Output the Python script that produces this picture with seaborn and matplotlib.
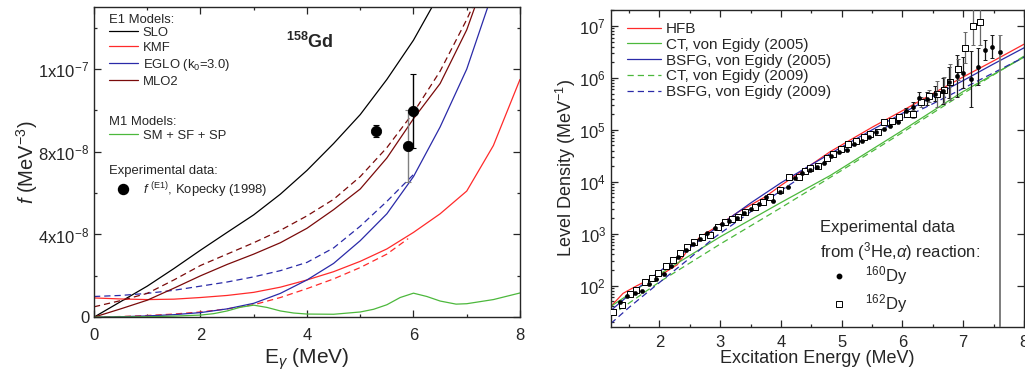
import numpy as np
import pandas as pd
import matplotlib
matplotlib.use("Agg")
import matplotlib.pyplot as plt
from matplotlib.ticker import (FixedLocator, MultipleLocator, LogLocator, NullFormatter,
                               LogFormatterSciNotation)
import seaborn as sns

# ---------------- left panel: 158Gd strength functions (1e-8 MeV^-3) ----------------
e_half = [0, 0.5, 1, 1.5, 2, 2.5, 3, 3.5, 4, 4.5, 5, 5.5, 6, 6.5, 7, 7.5, 8]

slo_e = e_half[:14]
slo_f = [0, 0.75, 1.5, 2.35, 3.24, 4.1, 4.95, 5.95, 7.1, 8.4, 9.8, 11.5, 13.4, 15.7]

mlo2_e = e_half[:16]
mlo2_f = [0, 0.4, 0.82, 1.4, 2.0, 2.55, 3.05, 3.6, 4.3, 5.2, 6.2, 7.7, 9.6, 11.3, 13.9, 17.5]
mlo2_dash_f = [0.5, 0.8, 1.15, 1.8, 2.5, 3.05, 3.6, 4.2, 4.9, 5.7, 6.8, 8.2, 9.9, 11.9, 14.4, 17.2]

eglo_e = e_half[:16]
eglo_f = [0, 0.02, 0.06, 0.12, 0.22, 0.4, 0.67, 1.15, 1.8, 2.6, 3.7, 5.0, 6.8, 9.2, 12.0, 15.8]
eglo_dash_e = e_half[:13]
eglo_dash_f = [1.0, 1.05, 1.15, 1.3, 1.5, 1.7, 1.95, 2.25, 2.65, 3.35, 4.4, 5.6, 6.9]

kmf_e = e_half
kmf_f = [0.93, 0.88, 0.85, 0.87, 0.95, 1.05, 1.2, 1.45, 1.8, 2.2, 2.7, 3.3, 4.1, 5.0, 6.1, 8.3, 11.5]
kmf_dash_e = [0, 0.5, 1, 1.5, 2, 2.5, 3, 3.5, 4, 4.5, 5, 5.5, 5.9]
kmf_dash_f = [0, 0.03, 0.08, 0.15, 0.25, 0.4, 0.6, 0.95, 1.38, 1.85, 2.4, 3.05, 3.8]

m1_e = [0, 0.5, 1, 1.5, 2, 2.25, 2.5, 2.75, 3, 3.25, 3.5, 3.75, 4, 4.5, 5, 5.25,
        5.5, 5.75, 6, 6.25, 6.5, 6.8, 7, 7.5, 8]
m1_f = [0, 0.01, 0.02, 0.05, 0.1, 0.17, 0.3, 0.48, 0.58, 0.47, 0.3, 0.2, 0.15, 0.14,
        0.25, 0.38, 0.6, 0.95, 1.16, 1.0, 0.78, 0.63, 0.65, 0.85, 1.17]

kop_e = [5.3, 5.9, 6.0]
kop_f = [9.0, 8.27, 9.97]
kop_err = [0.3, 1.75, 1.8]

gd_yticks = [0, 4, 8, 12]
gd_yticklabels = ["0", r"4x10$^{-8}$", r"8x10$^{-8}$", r"1x10$^{-7}$"]

# ---------------- right panel: Dy level densities (log10 of MeV^-1) ----------------
hfb_e = [1.2, 1.4, 1.6, 1.8, 1.93, 2.1, 2.29, 2.47, 2.67, 2.92, 3.3, 3.74, 4.0, 4.4,
         4.81, 5.5, 6.0, 6.5, 7.0, 7.5, 8.0]
hfb_l = [1.6, 1.85, 1.98, 2.1, 2.17, 2.26, 2.40, 2.69, 2.94, 3.12, 3.42, 3.71, 3.93,
         4.25, 4.58, 5.05, 5.37, 5.7, 6.02, 6.33, 6.65]

bsfg05_e = [1.2, 1.5, 2, 2.5, 3, 3.5, 4, 4.5, 5, 5.5, 6, 6.5, 7, 7.5, 8]
bsfg05_l = [1.52, 1.82, 2.27, 2.73, 3.17, 3.59, 3.98, 4.33, 4.67, 5.0, 5.32, 5.64, 5.95, 6.27, 6.58]

bsfg09_e = [1.2, 1.5, 2, 2.5, 2.92, 3.5, 4, 4.5, 4.81, 5.5, 6, 6.46, 7, 7.5, 8]
bsfg09_l = [1.27, 1.58, 2.06, 2.53, 2.94, 3.42, 3.83, 4.22, 4.46, 4.91, 5.22, 5.48, 5.8, 6.1, 6.4]

ct05_e = [1.2, 2.0, 3.0, 4.0, 4.81, 6.0, 7.0, 8.0]
ct05_l = [1.6, 2.22, 2.94, 3.6, 4.12, 4.99, 5.74, 6.40]

ct09_e = [1.2, 2.0, 3.0, 4.0, 5.0, 6.0, 7.0, 8.0]
ct09_l = [1.42, 2.07, 2.8, 3.5, 4.22, 4.95, 5.7, 6.42]

dy160_e = [1.35, 1.47, 1.59, 1.71, 1.83, 1.95, 2.07, 2.19, 2.31, 2.43,
           2.55, 2.67, 2.79, 2.91, 3.03, 3.15, 3.27, 3.39, 3.51, 3.63,
           3.75, 3.87, 3.99, 4.11, 4.23, 4.35, 4.47, 4.59, 4.71, 4.83,
           4.95, 5.08, 5.20, 5.33, 5.45, 5.57, 5.69, 5.80, 5.92, 6.05,
           6.17, 6.28, 6.41, 6.53, 6.66, 6.77, 6.89, 7.00, 7.12, 7.24,
           7.36, 7.48, 7.60]
dy160_l = [1.69, 1.80, 1.86, 1.90, 2.03, 2.12, 2.22, 2.38, 2.55, 2.68,
           2.80, 2.90, 3.02, 3.10, 3.19, 3.25, 3.30, 3.40, 3.48, 3.57,
           3.70, 3.63, 3.80, 3.89, 4.07, 4.16, 4.23, 4.28, 4.37, 4.50,
           4.58, 4.62, 4.72, 4.79, 4.86, 4.95, 5.02, 5.08, 5.15, 5.37,
           5.45, 5.62, 5.60, 5.70, 5.75, 5.92, 6.04, 6.10, 5.98, 6.22,
           6.54, 6.60, 6.50]
dy160_err = [0.0] * 39 + [0.06, 0.08, 0.1, 0.12, 0.15, 0.25, 0.3, 0.4, 0.3, 0.53,
                          0.35, 0.2, 0.22, 0.33]
dy160_last_low = 0.0   # last point's error bar runs down off the axis (log10 value)

dy162_e = [1.23, 1.38, 1.51, 1.62, 1.76, 1.87, 1.97, 2.10, 2.22, 2.34,
           2.45, 2.57, 2.70, 2.83, 2.96, 3.08, 3.19, 3.30, 3.41, 3.58,
           3.71, 3.82, 3.99, 4.14, 4.29, 4.40, 4.48, 4.61, 4.76, 4.86,
           4.99, 5.11, 5.24, 5.36, 5.47, 5.59, 5.69, 5.82, 5.94, 6.07,
           6.18, 6.31, 6.43, 6.56, 6.68, 6.79, 6.91, 7.03, 7.16, 7.27]
dy162_l = [1.50, 1.63, 1.83, 1.92, 2.06, 2.15, 2.25, 2.37, 2.50, 2.63,
           2.75, 2.83, 2.94, 2.98, 3.13, 3.22, 3.28, 3.33, 3.42, 3.52,
           3.61, 3.71, 3.85, 4.10, 4.10, 4.20, 4.27, 4.31, 4.46, 4.54,
           4.63, 4.73, 4.79, 4.87, 4.92, 4.96, 5.15, 5.17, 5.25, 5.31,
           5.30, 5.54, 5.65, 5.69, 5.77, 5.92, 6.17, 6.58, 7.00, 7.08]
dy162_err = [0.0] * 39 + [0.05, 0.08, 0.1, 0.12, 0.25, 0.25, 0.35, 0.2, 0.3, 0.36, 0.45]

ld_yticks = [1e2, 1e3, 1e4, 1e5, 1e6, 1e7]

# ---------------- style ----------------
sns.set_theme(style="ticks")
plt.rcParams["font.family"] = ["Liberation Sans", "DejaVu Sans"]
plt.rcParams["mathtext.fontset"] = "custom"
plt.rcParams["mathtext.rm"] = "Liberation Sans"
plt.rcParams["mathtext.it"] = "Liberation Sans:italic"
plt.rcParams["mathtext.bf"] = "Liberation Sans:bold"

RED = "#ff2a2a"
BLUE = "#2a2aa8"
DRED = "#7a0a0a"
GREEN = "#4cb83c"
DASH = (0, (5, 3.2))
LW = 0.9

fig = plt.figure(figsize=(10.25, 3.74), dpi=100)
ax1 = fig.add_axes([0.0917, 0.152, 0.4156, 0.829])
ax2 = fig.add_axes([0.596, 0.126, 0.403, 0.8476])


def curve(ax, x, y, color, ls="-", label=None):
    d = pd.DataFrame({"x": x, "y": y})
    sns.lineplot(data=d, x="x", y="y", ax=ax, color=color, linestyle=ls, lw=LW,
                 sort=False, estimator=None, legend=False, label=label)
    return ax.lines[-1]


# --------- left panel ---------
h_slo = curve(ax1, slo_e, slo_f, "black", label="SLO")
h_kmf = curve(ax1, kmf_e, kmf_f, RED, label="KMF")
curve(ax1, kmf_dash_e, kmf_dash_f, RED, DASH)
h_eglo = curve(ax1, eglo_e, eglo_f, BLUE, label=r"EGLO (k$_0$=3.0)")
curve(ax1, eglo_dash_e, eglo_dash_f, BLUE, DASH)
h_mlo = curve(ax1, mlo2_e, mlo2_f, DRED, label="MLO2")
curve(ax1, mlo2_e, mlo2_dash_f, DRED, DASH)
h_m1 = curve(ax1, m1_e, m1_f, GREEN, label="SM + SF + SP")

bar_cols = ["black", "0.5", "black"]
for i in range(len(kop_e)):
    ax1.errorbar(kop_e[i], kop_f[i], yerr=kop_err[i], fmt="none", ecolor=bar_cols[i],
                 elinewidth=1.0, capsize=2, capthick=0.8, zorder=4)
sns.scatterplot(x=kop_e, y=kop_f, ax=ax1, color="black", s=55, edgecolor="black",
                zorder=5, legend=False)
h_kop = plt.Line2D([], [], color="black", marker="o", ls="", ms=7.2)

ax1.set_xlim(0, 8)
ax1.set_ylim(0, 15)
ax1.xaxis.set_major_locator(MultipleLocator(2))
ax1.xaxis.set_minor_locator(MultipleLocator(1))
ax1.yaxis.set_major_locator(FixedLocator(gd_yticks))
ax1.yaxis.set_minor_locator(FixedLocator([2, 6, 10, 14]))
ax1.set_yticklabels(gd_yticklabels)
ax1.set_xlabel(r"E$_\gamma$ (MeV)", fontsize=15, labelpad=2)
ax1.set_ylabel(r"$f$ (MeV$^{-3}$)", fontsize=14.5, labelpad=-1)

FS_L = 9.4
ax1.text(0.035, 0.958, "E1 Models:", transform=ax1.transAxes, fontsize=FS_L, va="center")
leg = ax1.legend([h_slo, h_kmf, h_eglo, h_mlo], ["SLO", "KMF", r"EGLO (k$_0$=3.0)", "MLO2"],
                 loc="upper left", bbox_to_anchor=(0.035, 0.937), frameon=False, fontsize=FS_L,
                 handlelength=2.2, handletextpad=0.4, labelspacing=0.22, borderpad=0,
                 borderaxespad=0)
ax1.add_artist(leg)
ax1.text(0.035, 0.629, "M1 Models:", transform=ax1.transAxes, fontsize=FS_L, va="center")
leg = ax1.legend([h_m1], ["SM + SF + SP"], loc="upper left", bbox_to_anchor=(0.035, 0.605),
                 frameon=False, fontsize=FS_L, handlelength=2.2, handletextpad=0.4,
                 borderpad=0, borderaxespad=0)
ax1.add_artist(leg)
ax1.text(0.035, 0.471, "Experimental data:", transform=ax1.transAxes, fontsize=FS_L, va="center")
ax1.legend([h_kop], [r"$f$ $^{\mathrm{(E1)}}$, Kopecky (1998)"], loc="upper left",
           bbox_to_anchor=(0.035, 0.442), frameon=False, fontsize=FS_L, handlelength=2.2,
           handletextpad=0.4, borderpad=0, borderaxespad=0)
ax1.text(0.45, 0.887, r"$^{\mathbf{158}}$Gd", transform=ax1.transAxes, fontsize=13,
         fontweight="bold", va="center")

# --------- right panel ---------
p = lambda v: [10 ** x for x in v]
h_hfb = curve(ax2, hfb_e, p(hfb_l), RED)
h_ct05 = curve(ax2, ct05_e, p(ct05_l), GREEN)
h_b05 = curve(ax2, bsfg05_e, p(bsfg05_l), BLUE)
h_ct09 = curve(ax2, ct09_e, p(ct09_l), GREEN, DASH)
h_b09 = curve(ax2, bsfg09_e, p(bsfg09_l), BLUE, DASH)

y160 = np.array(p(dy160_l))
lo160 = y160 - 10 ** (np.array(dy160_l) - np.array(dy160_err))
hi160 = 10 ** (np.array(dy160_l) + np.array(dy160_err)) - y160
lo160[-1] = y160[-1] - 10 ** dy160_last_low
ax2.errorbar(dy160_e[:-1], y160[:-1], yerr=[lo160[:-1], hi160[:-1]], fmt="none",
             ecolor="0.1", elinewidth=0.9, capsize=1.5, capthick=0.7, zorder=3)
ax2.errorbar(dy160_e[-1:], y160[-1:], yerr=[lo160[-1:], hi160[-1:]], fmt="none",
             ecolor="0.45", elinewidth=1.3, capsize=1.5, capthick=0.7, zorder=3)
y162 = np.array(p(dy162_l))
lo162 = y162 - 10 ** (np.array(dy162_l) - np.array(dy162_err))
hi162 = 10 ** (np.array(dy162_l) + np.array(dy162_err)) - y162
ax2.errorbar(dy162_e, y162, yerr=[lo162, hi162], fmt="none", ecolor="0.4",
             elinewidth=0.9, capsize=1.5, capthick=0.7, zorder=3)
sns.scatterplot(x=dy160_e, y=y160, ax=ax2, color="black", s=10, edgecolor="black",
                zorder=5, legend=False)
sns.scatterplot(x=dy162_e, y=y162, ax=ax2, marker="s", s=16, facecolor="white",
                edgecolor="black", linewidth=0.7, zorder=4, legend=False)
h_160 = plt.Line2D([], [], color="black", marker="o", ls="", ms=3.2)
h_162 = plt.Line2D([], [], color="black", marker="s", ls="", ms=4.2, mfc="white", mew=0.7)

ax2.set_yscale("log")
ax2.set_xlim(1.2, 8)
ax2.set_ylim(16, 2.05e7)
ax2.xaxis.set_major_locator(FixedLocator([2, 3, 4, 5, 6, 7, 8]))
ax2.xaxis.set_minor_locator(FixedLocator([1.5, 2.5, 3.5, 4.5, 5.5, 6.5, 7.5]))
ax2.yaxis.set_major_locator(FixedLocator(ld_yticks))
ax2.yaxis.set_major_formatter(LogFormatterSciNotation())
ax2.yaxis.set_minor_locator(LogLocator(base=10, subs=np.arange(2, 10), numticks=12))
ax2.yaxis.set_minor_formatter(NullFormatter())
ax2.set_xlabel("Excitation Energy (MeV)", fontsize=13, labelpad=0)
ax2.set_ylabel(r"Level Density (MeV$^{-1}$)", fontsize=13, labelpad=1)

leg = ax2.legend([h_hfb, h_ct05, h_b05, h_ct09, h_b09],
                 ["HFB", "CT, von Egidy (2005)", "BSFG, von Egidy (2005)",
                  "CT, von Egidy (2009)", "BSFG, von Egidy (2009)"],
                 loc="upper left", bbox_to_anchor=(0.039, 0.962), frameon=False, fontsize=11,
                 handlelength=2.2, handletextpad=0.35, labelspacing=0.12, borderpad=0,
                 borderaxespad=0)
ax2.add_artist(leg)
ax2.text(0.506, 0.312, "Experimental data", transform=ax2.transAxes, fontsize=12, va="center")
ax2.text(0.506, 0.237, r"from ($^3$He,$\alpha$) reaction:", transform=ax2.transAxes,
         fontsize=12, va="center")
ax2.legend([h_160, h_162], [r"$^{160}$Dy", r"$^{162}$Dy"], loc="upper left",
           bbox_to_anchor=(0.518, 0.197), frameon=False, fontsize=12, handlelength=1.7,
           handletextpad=0.7, labelspacing=0.3, borderpad=0, borderaxespad=0)

for ax in (ax1, ax2):
    for s in ax.spines.values():
        s.set_linewidth(1.0)
        s.set_color("0.15")
    ax.tick_params(which="both", direction="in", top=True, right=True, labelsize=12,
                   width=0.9, color="0.15")
    ax.tick_params(which="major", length=5)
    ax.tick_params(which="minor", length=2.5)
ax1.tick_params(axis="x", which="major", pad=8)
ax2.tick_params(axis="x", which="major", pad=6)
ax2.tick_params(which="minor", axis="y", right=False)

fig.savefig("out.png", dpi=100)
